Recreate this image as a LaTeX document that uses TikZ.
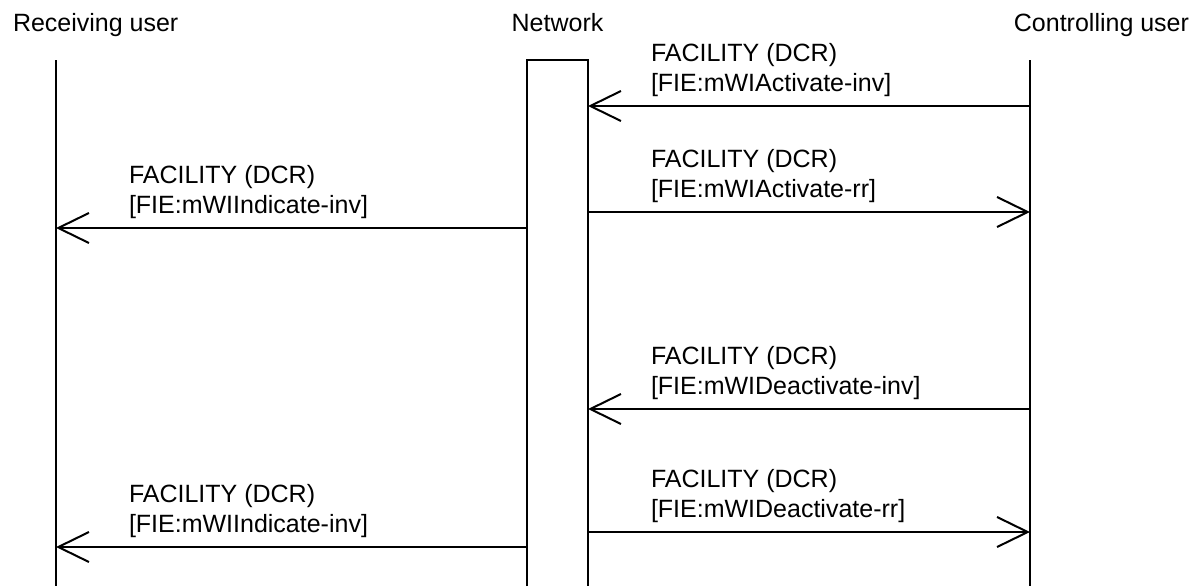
\documentclass[tikz,border=0pt]{standalone}
\usepackage{fontspec}
\setmainfont{Liberation Sans}
\usetikzlibrary{arrows.meta}
\begin{document}
\begin{tikzpicture}[x=0.75pt,y=-0.75pt,line width=1.5pt,
		msg/.style={-{Straight Barb[length=23pt,width=22.5pt]}},
		lbl/.style={anchor=base west,align=left,inner sep=0pt,font=\fontsize{18.75}{22.5}\selectfont},
		head/.style={anchor=base,inner sep=0pt,font=\fontsize{18.75}{22.5}\selectfont}]
	\useasboundingbox (0,0) rectangle (1201,586);
	\node [head,anchor=base west] (recv) at (12,31) {Receiving user};
	\node [head] (net) at (557.5,31) {Network};
	\node [head,anchor=base east] (ctrl) at (1190,31) {Controlling user};
	\coordinate (recvTop) at (56,60);
	\coordinate (recvBot) at (56,586);
	\coordinate (ctrlTop) at (1030,60);
	\coordinate (ctrlBot) at (1030,586);
	\draw (recvTop) -- (recvBot);
	\draw (ctrlTop) -- (ctrlBot);
	\draw (527,586) -- (527,60) -- (588,60) -- (588,586);
	\coordinate (c1) at (1030,106); \coordinate (n1) at (588,106);
	\coordinate (n2) at (588,212); \coordinate (c2) at (1030,212);
	\coordinate (n3) at (527,228); \coordinate (r3) at (56,228);
	\coordinate (c4) at (1030,409); \coordinate (n4) at (588,409);
	\coordinate (n5) at (588,532); \coordinate (c5) at (1030,532);
	\coordinate (n6) at (527,547); \coordinate (r6) at (56,547);
	\draw [msg] (c1) -- (n1);
	\draw [msg] (n2) -- (c2);
	\draw [msg] (n3) -- (r3);
	\draw [msg] (c4) -- (n4);
	\draw [msg] (n5) -- (c5);
	\draw [msg] (n6) -- (r6);
	\node [lbl] (l1) at (650,91) {FACILITY (DCR)\\{}[FIE:mWIActivate-inv]};
	\node [lbl] (l2) at (650,197) {FACILITY (DCR)\\{}[FIE:mWIActivate-rr]};
	\node [lbl] (l3) at (128,213) {FACILITY (DCR)\\{}[FIE:mWIIndicate-inv]};
	\node [lbl] (l4) at (650,394) {FACILITY (DCR)\\{}[FIE:mWIDeactivate-inv]};
	\node [lbl] (l5) at (650,517) {FACILITY (DCR)\\{}[FIE:mWIDeactivate-rr]};
	\node [lbl] (l6) at (128,532) {FACILITY (DCR)\\{}[FIE:mWIIndicate-inv]};
\end{tikzpicture}
\end{document}
